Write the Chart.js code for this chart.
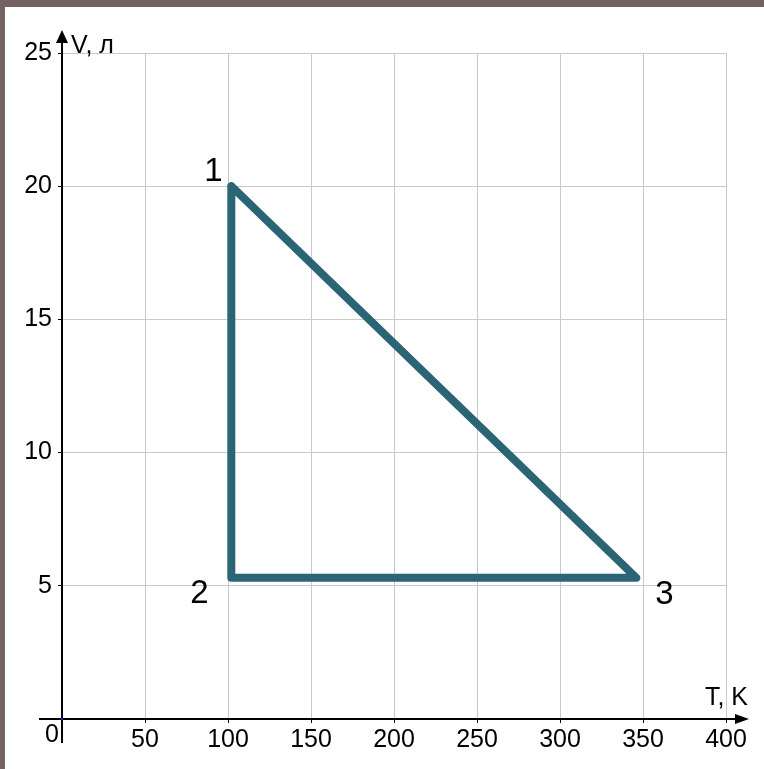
<!DOCTYPE html>
<html>
<head>
<meta charset="utf-8">
<script src="https://cdn.jsdelivr.net/npm/chart.js@4.4.0/dist/chart.umd.min.js"></script>
<style>
  html, body { margin: 0; padding: 0; background: #746262; }
  body { width: 764px; height: 769px; overflow: hidden; position: relative; }
  #frame { position: absolute; left: 5px; top: 7px; width: 759px; height: 762px; background: #fff; }
  canvas { display: block; }
</style>
</head>
<body>
<div id="frame"><canvas id="cycle" width="759" height="762"></canvas></div>
<script>
// V–T diagram of the cycle 1 → 2 → 3 → 1
const pointNames = ['1', '2', '3'];
const temperatures = [102, 102, 346];   // T, K
const volumes = [20, 5.3, 5.3];         // V, л
const tTicks = [0, 50, 100, 150, 200, 250, 300, 350, 400];
const vTicks = [0, 5, 10, 15, 20, 25];

const FONT = "'Liberation Sans', Arial, sans-serif";
const LINE_COLOR = '#2b6575';
const GRID_COLOR = '#c9c9c9';

// closed path: back to the first state at the end
const cycle = pointNames.map((_, i) => ({ x: temperatures[i], y: volumes[i] }));
cycle.push(cycle[0]);

// label offsets from each state point, px
const labelOffsets = [[-18, -14], [-32, 16], [28, 17]];

const axesPlugin = {
  id: 'axes',
  afterDraw(chart) {
    const { ctx, scales: { x, y } } = chart;
    const x0 = x.getPixelForValue(0);
    const y0 = y.getPixelForValue(0);
    ctx.save();
    ctx.strokeStyle = '#000';
    ctx.fillStyle = '#000';
    ctx.lineWidth = 2;

    // T axis
    ctx.beginPath();
    ctx.moveTo(x0 - 23, y0);
    ctx.lineTo(x.right + 10, y0);
    ctx.stroke();
    ctx.beginPath();
    ctx.moveTo(x.right + 23, y0);
    ctx.lineTo(x.right + 9, y0 - 5);
    ctx.lineTo(x.right + 9, y0 + 5);
    ctx.closePath();
    ctx.fill();

    // V axis
    ctx.beginPath();
    ctx.moveTo(x0, y0 + 24);
    ctx.lineTo(x0, y.top - 11);
    ctx.stroke();
    ctx.beginPath();
    ctx.moveTo(x0, y.top - 23);
    ctx.lineTo(x0 - 6, y.top - 10);
    ctx.lineTo(x0 + 6, y.top - 10);
    ctx.closePath();
    ctx.fill();

    // origin dot
    ctx.fillStyle = '#2020d0';
    ctx.fillRect(x0 - 1, y0 - 1, 2, 2);

    ctx.fillStyle = '#000';
    ctx.font = '25px ' + FONT;
    ctx.textBaseline = 'alphabetic';
    ctx.textAlign = 'left';
    ctx.fillText('V, л', x0 + 9, y.top);
    ctx.textAlign = 'right';
    ctx.fillText('T, K', x.right + 22, y0 - 14);
    ctx.textAlign = 'center';
    ctx.textBaseline = 'middle';
    ctx.fillText('0', x0 - 10, y0 + 16);
    ctx.restore();
  },
  afterDatasetsDraw(chart) {
    const { ctx, scales: { x, y } } = chart;
    ctx.save();
    ctx.fillStyle = '#000';
    ctx.font = '33px ' + FONT;
    ctx.textAlign = 'center';
    ctx.textBaseline = 'middle';
    pointNames.forEach((name, i) => {
      const px = x.getPixelForValue(temperatures[i]) + labelOffsets[i][0];
      const py = y.getPixelForValue(volumes[i]) + labelOffsets[i][1];
      ctx.fillText(name, px, py);
    });
    ctx.restore();
  }
};

new Chart(document.getElementById('cycle'), {
  type: 'scatter',
  data: {
    datasets: [{
      data: cycle,
      showLine: true,
      borderColor: LINE_COLOR,
      borderWidth: 8,
      borderCapStyle: 'round',
      borderJoinStyle: 'round',
      pointRadius: 0,
      pointHoverRadius: 0,
      tension: 0
    }]
  },
  options: {
    responsive: false,
    animation: false,
    devicePixelRatio: 1,
    layout: { padding: { top: 46, right: 38, left: 0, bottom: 0 } },
    plugins: { legend: { display: false }, tooltip: { enabled: false } },
    scales: {
      x: {
        type: 'linear',
        min: 0,
        max: 400,
        afterBuildTicks: s => { s.ticks = tTicks.map(v => ({ value: v })); },
        afterFit: s => { s.height = 50; },
        border: { display: false },
        grid: { color: GRID_COLOR, lineWidth: 1, tickLength: 4, tickColor: '#000' },
        ticks: {
          padding: 2,
          color: '#000',
          font: { family: FONT, size: 25 },
          maxRotation: 0,
          callback: v => (v === 0 ? '' : String(v))
        }
      },
      y: {
        type: 'linear',
        min: 0,
        max: 25,
        afterBuildTicks: s => { s.ticks = vTicks.map(v => ({ value: v })); },
        afterFit: s => { s.width = 57; },
        border: { display: false },
        grid: { color: GRID_COLOR, lineWidth: 1, tickLength: 4, tickColor: '#000' },
        ticks: {
          padding: 6,
          color: '#000',
          font: { family: FONT, size: 25 },
          callback: v => (v === 0 ? '' : String(v))
        }
      }
    }
  },
  plugins: [axesPlugin]
});
</script>
</body>
</html>
